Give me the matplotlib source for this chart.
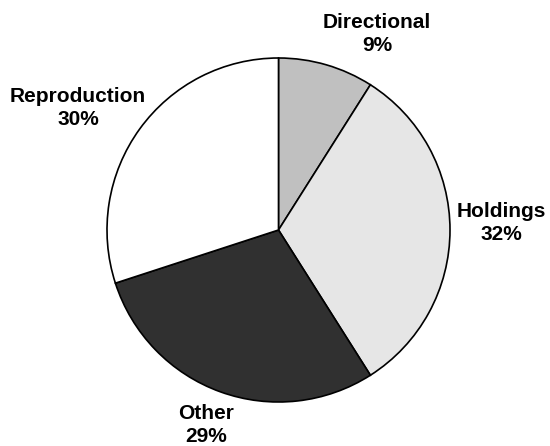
import matplotlib
matplotlib.use("Agg")
import matplotlib.pyplot as plt

labels = ["Directional", "Holdings", "Other", "Reproduction"]
values = [9, 32, 29, 30]
colors = ["#c0c0c0", "#e6e6e6", "#303030", "#ffffff"]
# label centre positions in pixel coordinates (x, y from top)
label_px = {"Directional": (377, 34), "Holdings": (501, 223),
            "Other": (206, 425), "Reproduction": (78, 108)}

W, H = 550, 446
fig = plt.figure(figsize=(W / 100, H / 100), dpi=100)
left, right, top, bottom = 107, 450, 58, 402
ax = fig.add_axes([left / W, 1 - bottom / H, (right - left) / W, (bottom - top) / H])
ax.pie(values, colors=colors, startangle=90, counterclock=False,
       wedgeprops=dict(edgecolor="black", linewidth=1.2), radius=1)
ax.set_xlim(-1, 1)
ax.set_ylim(-1, 1)
ax.set_aspect("auto")
ax.axis("off")

cx, cy = (left + right) / 2, (top + bottom) / 2
rx, ry = (right - left) / 2, (bottom - top) / 2
for lab, v in zip(labels, values):
    px, py = label_px[lab]
    ax.text((px - cx) / rx, (cy - py) / ry, f"{lab}\n{v}%", ha="center", va="center",
            fontsize=15, fontweight="bold", family="Liberation Sans",
            linespacing=1.3, clip_on=False)

fig.savefig("out.png", dpi=100)
